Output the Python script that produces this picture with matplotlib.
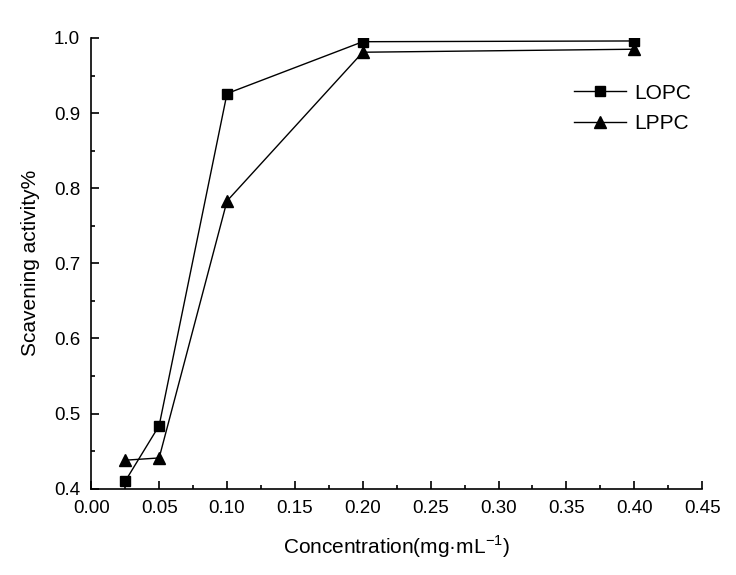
import matplotlib.pyplot as plt
from matplotlib.ticker import MultipleLocator

plt.rcParams['font.family'] = ['Liberation Sans', 'DejaVu Sans']
plt.rcParams['mathtext.fontset'] = 'custom'
plt.rcParams['mathtext.rm'] = 'Liberation Sans'

conc = [0.025, 0.05, 0.1, 0.2, 0.4]
lopc = [0.410, 0.484, 0.926, 0.995, 0.996]
lppc = [0.438, 0.441, 0.783, 0.981, 0.985]

fig = plt.figure(figsize=(7.36, 5.75), dpi=100)
ax = fig.add_axes([0.124, 0.150, 0.830, 0.784])

ax.plot(conc, lopc, color="black", lw=1, marker="s", ms=6.5, label="LOPC")
ax.plot(conc, lppc, color="black", lw=1, marker="^", ms=8, label="LPPC")

ax.set_xlim(0, 0.45)
ax.set_ylim(0.4, 1.0)
ax.xaxis.set_major_locator(MultipleLocator(0.05))
ax.xaxis.set_minor_locator(MultipleLocator(0.025))
ax.yaxis.set_major_locator(MultipleLocator(0.1))
ax.yaxis.set_minor_locator(MultipleLocator(0.05))
ax.xaxis.set_major_formatter(plt.FormatStrFormatter("%.2f"))
ax.yaxis.set_major_formatter(plt.FormatStrFormatter("%.1f"))
ax.tick_params(which="major", direction="in", length=6, width=1.2, labelsize=13.5, pad=8)
ax.tick_params(which="minor", direction="in", length=3, width=1.2)

for s in ["top", "right"]:
    ax.spines[s].set_visible(False)
for s in ["left", "bottom"]:
    ax.spines[s].set_linewidth(1.2)

ax.set_xlabel("Concentration(mg·mL$^{\\mathrm{-1}}$)", fontsize=15, labelpad=12)
ax.set_ylabel("Scavening activity%", fontsize=15, labelpad=10)

ax.legend(loc="upper left", bbox_to_anchor=(0.76, 0.94), frameon=False,
          fontsize=15, handlelength=2.5, handletextpad=0.4, labelspacing=0.55)

plt.savefig("out.png")
plt.close()
